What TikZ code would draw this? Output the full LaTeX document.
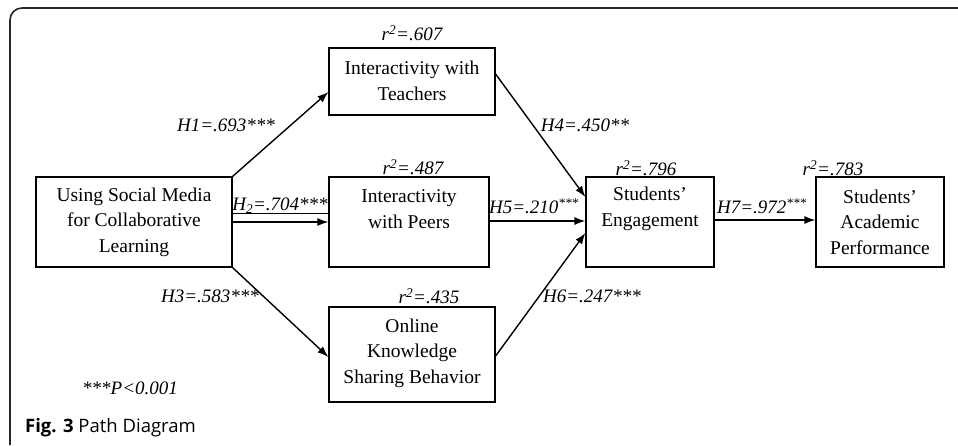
\documentclass[tikz,border=0pt]{standalone}
\usepackage{fontspec}
\setmainfont{Liberation Serif}
\newfontfamily\capfont{Open Sans}
\usetikzlibrary{arrows.meta,calc}
\begin{document}
\begin{tikzpicture}[x=1pt,y=-1pt,
  box/.style={draw=black,line width=1.2pt,rectangle,inner sep=0pt},
  btext/.style={align=center,font=\fontsize{19.5}{25.5}\selectfont,inner sep=0pt},
  lab/.style={font=\fontsize{19}{22}\selectfont\itshape,inner sep=0pt},
  arr/.style={line width=1.4pt,-{Latex[length=11pt,width=8pt]}}]
\useasboundingbox (0,0) rectangle (958,445);
\draw[line width=1.6pt,draw=black!85,rounded corners=12pt] (10,445) -- (10,8) -- (960,8);
% boxes
\node[box,minimum width=196pt,minimum height=90pt] (src) at (134,222) {};
\node[box,minimum width=166pt,minimum height=67pt] (tea) at (412,81.5) {};
\node[box,minimum width=160pt,minimum height=90pt] (peer) at (409,222) {};
\node[box,minimum width=166pt,minimum height=95pt] (onl) at (412,354.5) {};
\node[box,minimum width=128pt,minimum height=90pt] (eng) at (650,222) {};
\node[box,minimum width=128pt,minimum height=90pt] (perf) at (880,222) {};
% box texts
\node[btext] (srct) at (134,222) {Using Social Media\\for Collaborative\\Learning};
\node[btext] (teat) at (412,81) {Interactivity with\\Teachers};
\node[btext] (peert) at (409,209) {Interactivity\\with Peers};
\node[btext] (onlt) at (412,353) {Online\\Knowledge\\Sharing Behavior};
\node[btext] (engt) at (650,209) {Students'\\Engagement};
\node[btext] (perft) at (880,222) {Students'\\Academic\\Performance};
% r2 labels
\node[lab] (r1) at (412,33) {r\textsuperscript{2}=.607};
\node[lab] (r2) at (413,167) {r\textsuperscript{2}=.487};
\node[lab] (r3) at (429,296) {r\textsuperscript{2}=.435};
\node[lab] (r4) at (646,168) {r\textsuperscript{2}=.796};
\node[lab] (r5) at (833,168) {r\textsuperscript{2}=.783};
% arrows
\draw[arr] (src.north east) -- ([yshift=-10.5pt]tea.west);
\draw[arr] (src.east) -- (peer.west);
\draw[line width=0.9pt] ([yshift=9pt]src.east) -- ([yshift=9pt]peer.west);
\draw[arr] (src.south east) -- ([yshift=-2.5pt]onl.west);
\draw[arr] ([yshift=7.5pt]tea.east) -- ([yshift=25pt]eng.west);
\draw[arr] ([yshift=1pt]peer.east) -- ([yshift=1pt]eng.west);
\draw[arr] ([yshift=-1.5pt]onl.east) -- ([yshift=-11pt]eng.west);
\draw[arr] ([yshift=2pt]eng.east) -- ([yshift=2pt]perf.west);
% path labels
\node[lab] (h1) at (226,125) {H1=.693***};
\node[lab] (h2) at (280,206) {H\textsubscript{2}=.704***};
\node[lab] (h3) at (210,296) {H3=.583***};
\node[lab] (h4) at (585,125) {H4=.450**};
\node[lab] (h5) at (534,206) {H5=.210\textsuperscript{***}};
\node[lab] (h6) at (592,296) {H6=.247***};
\node[lab] (h7) at (762,206) {H7=.972\textsuperscript{***}};
\node[lab] (note) at (130,388) {***P<0.001};
\node[anchor=west,inner sep=0pt,font=\capfont\fontsize{18.5}{22}\selectfont] (cap) at (25,428) {\textbf{Fig. 3} Path Diagram};
\end{tikzpicture}
\end{document}
